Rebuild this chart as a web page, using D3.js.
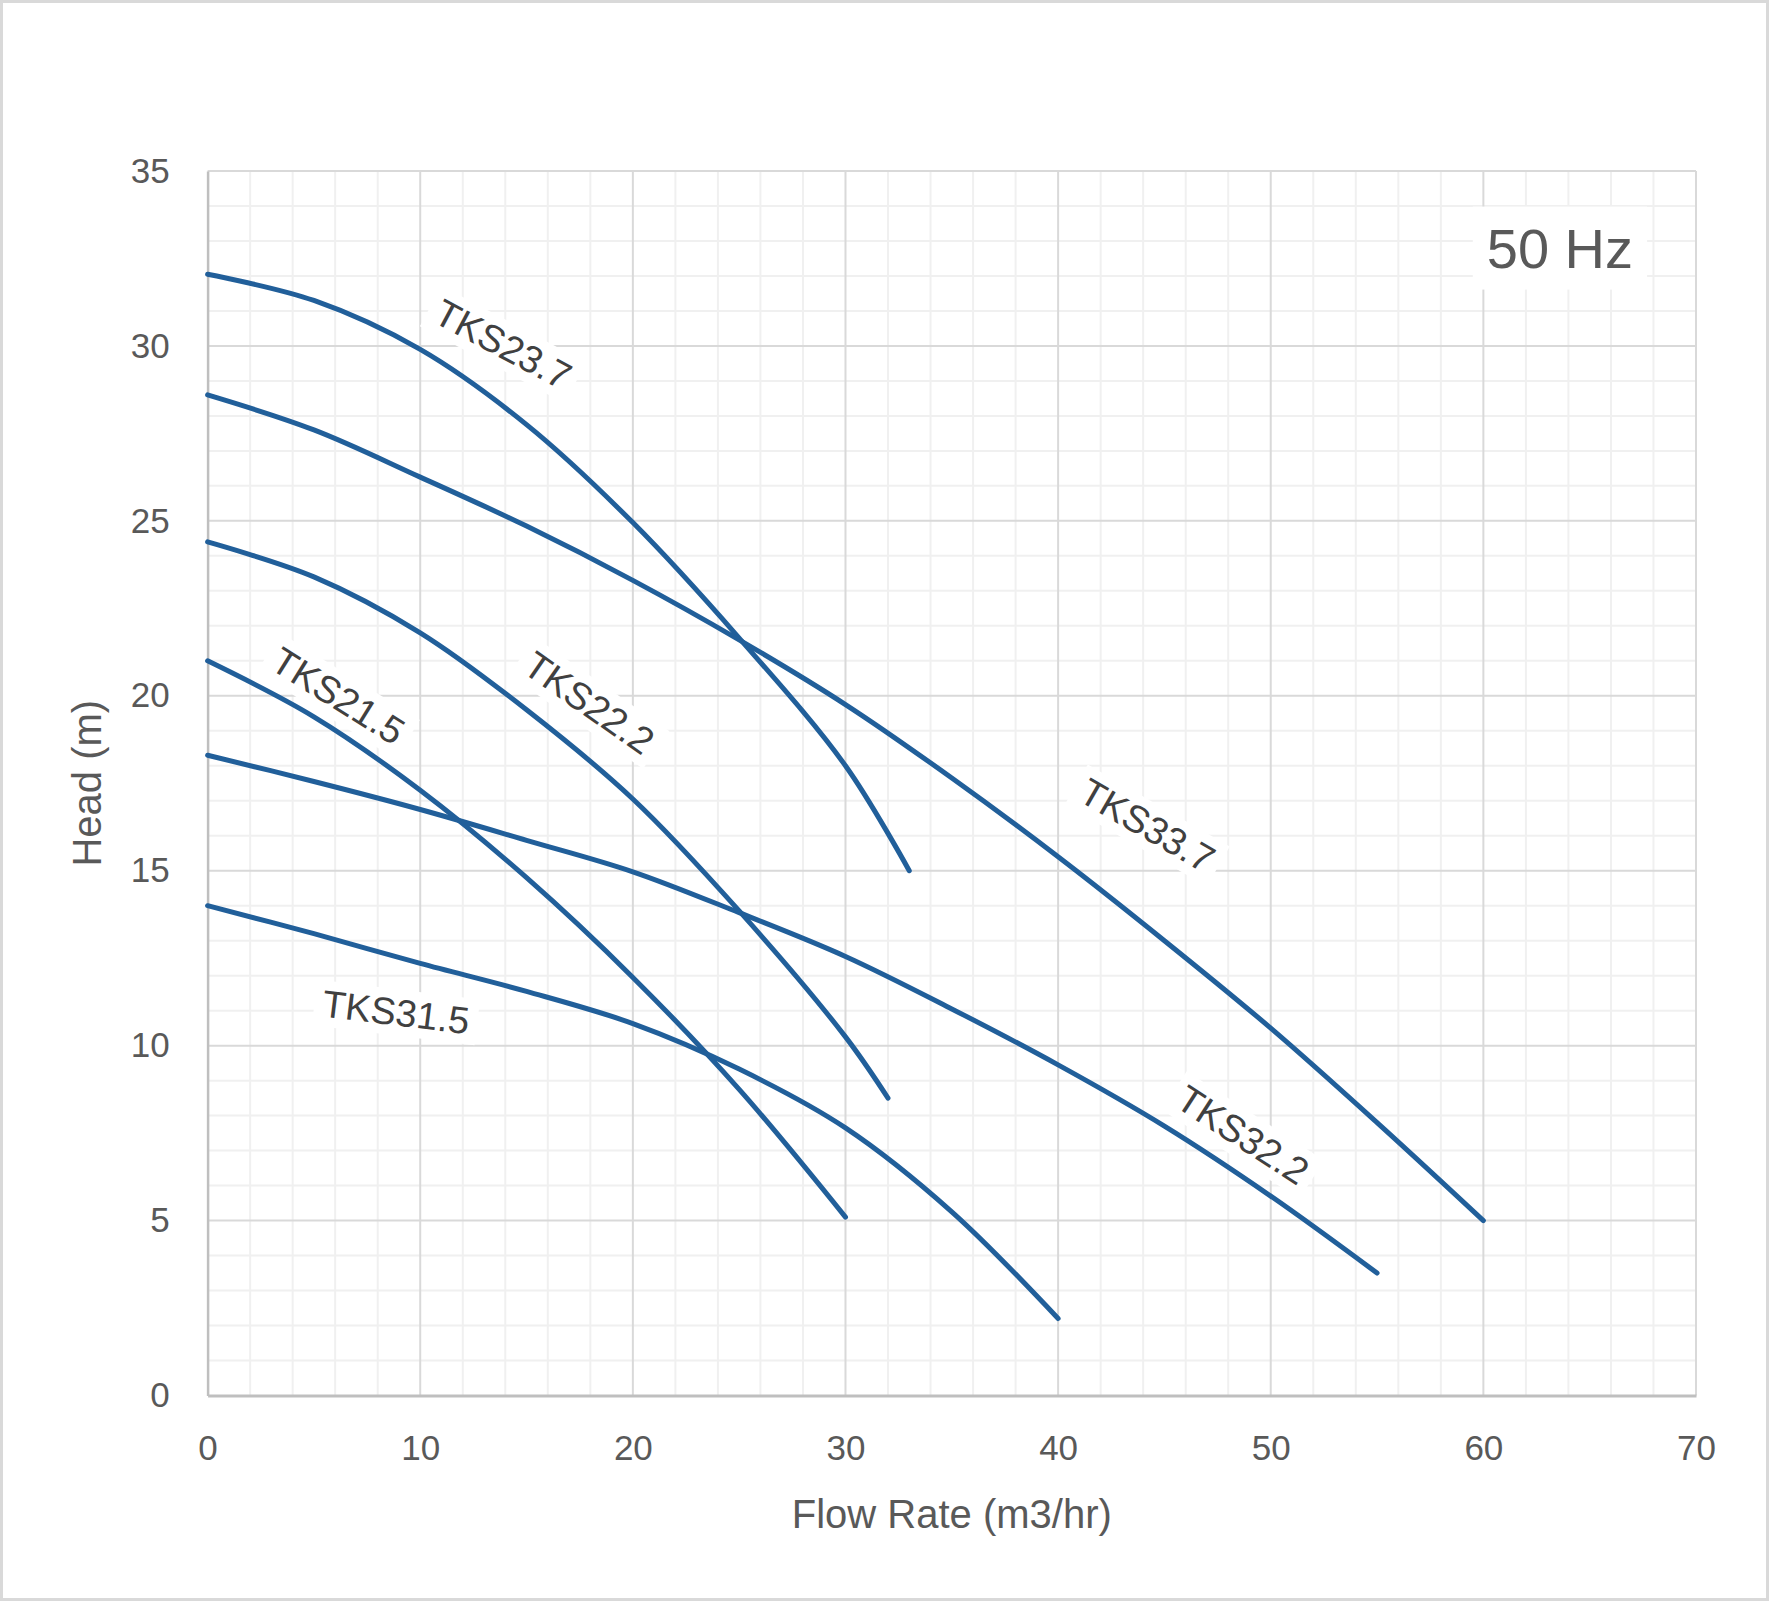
<!DOCTYPE html>
<html>
<head>
<meta charset="utf-8">
<script src="https://cdn.jsdelivr.net/npm/d3@7"></script>
<style>
  html, body { margin: 0; padding: 0; background: #fff; }
  svg { display: block; }
  text { font-family: "Liberation Sans", Arial, sans-serif; }
</style>
</head>
<body>
<svg id="chart" width="1769" height="1601"></svg>
<script>
// ---- data ----
const seriesNames = ["TKS23.7", "TKS33.7", "TKS22.2", "TKS21.5", "TKS32.2", "TKS31.5"];

const tks237Flow = [0, 5, 10, 15, 20, 25, 30, 33];
const tks237Head = [32.05, 31.3, 29.9, 27.75, 24.95, 21.65, 18.0, 15.0];

const tks337Flow = [0, 5, 10, 15, 20, 25, 30, 35, 40, 45, 50, 55, 60];
const tks337Head = [28.6, 27.6, 26.25, 24.85, 23.3, 21.6, 19.75, 17.65, 15.4, 13.0, 10.5, 7.8, 5.0];

const tks222Flow = [0, 5, 10, 15, 20, 25, 30, 32];
const tks222Head = [24.4, 23.4, 21.8, 19.6, 17.05, 13.85, 10.25, 8.5];

const tks215Flow = [0, 5, 10, 15, 20, 25, 30];
const tks215Head = [21.0, 19.4, 17.3, 14.8, 11.95, 8.75, 5.1];

const tks322Flow = [0, 5, 10, 15, 20, 25, 30, 35, 40, 45, 50, 55];
const tks322Head = [18.3, 17.55, 16.75, 15.87, 14.97, 13.8, 12.55, 11.05, 9.45, 7.7, 5.7, 3.5];

const tks315Flow = [0, 5, 10, 15, 20, 25, 30, 35, 40];
const tks315Head = [14.0, 13.2, 12.35, 11.55, 10.63, 9.33, 7.65, 5.25, 2.2];

const xTicks = [0, 10, 20, 30, 40, 50, 60, 70];
const yTicks = [0, 5, 10, 15, 20, 25, 30, 35];
const xTitle = "Flow Rate (m3/hr)";
const yTitle = "Head (m)";
const freqLabel = "50 Hz";

// label anchors (data coords) and rotation
const labelFlow  = [13.9, 44.2, 17.95, 6.15, 48.7, 8.86];
const labelHead  = [30.05, 16.3, 19.8, 20.0, 7.45, 10.96];
const labelAngle = [28, 30, 35, 32, 33, 7];

// ---- build ----
const flows = [tks237Flow, tks337Flow, tks222Flow, tks215Flow, tks322Flow, tks315Flow];
const heads = [tks237Head, tks337Head, tks222Head, tks215Head, tks322Head, tks315Head];
const series = seriesNames.map((n, i) => ({
  name: n,
  points: flows[i].map((f, j) => [f, heads[i][j]]),
  label: { x: labelFlow[i], y: labelHead[i], a: labelAngle[i] }
}));

const W = 1769, H = 1601;
const svg = d3.select("#chart");
const x = d3.scaleLinear().domain([0, 70]).range([207.6, 1696]);
const y = d3.scaleLinear().domain([0, 35]).range([1395.5, 171]);

// outer border
svg.append("rect").attr("x", 1.5).attr("y", 1.5).attr("width", W - 3).attr("height", H - 3)
  .attr("fill", "#fff").attr("stroke", "#d9d9d9").attr("stroke-width", 3);

const grid = svg.append("g");
// minor grid
const minorX = d3.range(0, 71, 2).filter(v => v % 10 !== 0);
const minorY = d3.range(0, 36, 1).filter(v => v % 5 !== 0);
grid.selectAll(".mx").data(minorX).join("line")
  .attr("x1", d => x(d)).attr("x2", d => x(d)).attr("y1", y(0)).attr("y2", y(35))
  .attr("stroke", "#f0f0f0").attr("stroke-width", 2);
grid.selectAll(".my").data(minorY).join("line")
  .attr("y1", d => y(d)).attr("y2", d => y(d)).attr("x1", x(0)).attr("x2", x(70))
  .attr("stroke", "#f0f0f0").attr("stroke-width", 2);
// major grid
grid.selectAll(".Mx").data(xTicks.filter(v => v > 0)).join("line")
  .attr("x1", d => x(d)).attr("x2", d => x(d)).attr("y1", y(0)).attr("y2", y(35))
  .attr("stroke", "#d9d9d9").attr("stroke-width", 2);
grid.selectAll(".My").data(yTicks.filter(v => v > 0)).join("line")
  .attr("y1", d => y(d)).attr("y2", d => y(d)).attr("x1", x(0)).attr("x2", x(70))
  .attr("stroke", "#d9d9d9").attr("stroke-width", 2);

// axes
const yAxis = svg.append("g").attr("transform", `translate(${x(0)},0)`)
  .call(d3.axisLeft(y).tickValues(yTicks).tickSize(0).tickPadding(38).tickFormat(d3.format("d")));
yAxis.select(".domain").attr("stroke", "#bfbfbf").attr("stroke-width", 2.5);
yAxis.selectAll("text").attr("font-size", 35).attr("fill", "#595959")
  .style("font-family", '"Liberation Sans", Arial, sans-serif');

const xAxis = svg.append("g").attr("transform", `translate(0,${y(0)})`)
  .call(d3.axisBottom(x).tickValues(xTicks).tickSize(0).tickPadding(40).tickFormat(d3.format("d")));
xAxis.select(".domain").attr("stroke", "#bfbfbf").attr("stroke-width", 3);
xAxis.selectAll("text").attr("font-size", 35).attr("fill", "#595959")
  .style("font-family", '"Liberation Sans", Arial, sans-serif');

// axis titles
svg.append("text").attr("x", (x(0) + x(70)) / 2).attr("y", 1528)
  .attr("text-anchor", "middle").attr("font-size", 40).attr("fill", "#595959").text(xTitle);
svg.append("text").attr("transform", `translate(101,${y(17.5)}) rotate(-90)`)
  .attr("text-anchor", "middle").attr("font-size", 40).attr("fill", "#595959").text(yTitle);

// curves
const line = d3.line().x(d => x(d[0])).y(d => y(d[1])).curve(d3.curveCatmullRom.alpha(0.5));
svg.append("g").selectAll("path").data(series).join("path")
  .attr("d", d => line(d.points))
  .attr("fill", "none").attr("stroke", "#215f9a").attr("stroke-width", 5)
  .attr("stroke-linecap", "round").attr("stroke-linejoin", "round");

// series labels with white boxes
const lg = svg.append("g").selectAll("g").data(series).join("g")
  .attr("transform", d => `translate(${x(d.label.x)},${y(d.label.y)}) rotate(${d.label.a})`);
const lt = lg.append("text").attr("text-anchor", "middle").attr("dy", "0.35em")
  .attr("font-size", 38).attr("fill", "#404040").text(d => d.name);
lt.each(function () {
  const b = this.getBBox();
  d3.select(this.parentNode).insert("rect", "text")
    .attr("x", b.x - 8).attr("y", b.y - 2).attr("width", b.width + 16).attr("height", b.height + 4)
    .attr("fill", "#fff");
});

// frequency label
const fg = svg.append("g").attr("transform", `translate(${x(63.6)},${y(32.8)})`);
const ft = fg.append("text").attr("text-anchor", "middle").attr("dy", "0.35em")
  .attr("font-size", 56).attr("fill", "#595959").text(freqLabel);
const fb = ft.node().getBBox();
fg.insert("rect", "text").attr("x", fb.x - 14).attr("y", fb.y - 10)
  .attr("width", fb.width + 28).attr("height", fb.height + 20).attr("fill", "#fff");
</script>
</body>
</html>
